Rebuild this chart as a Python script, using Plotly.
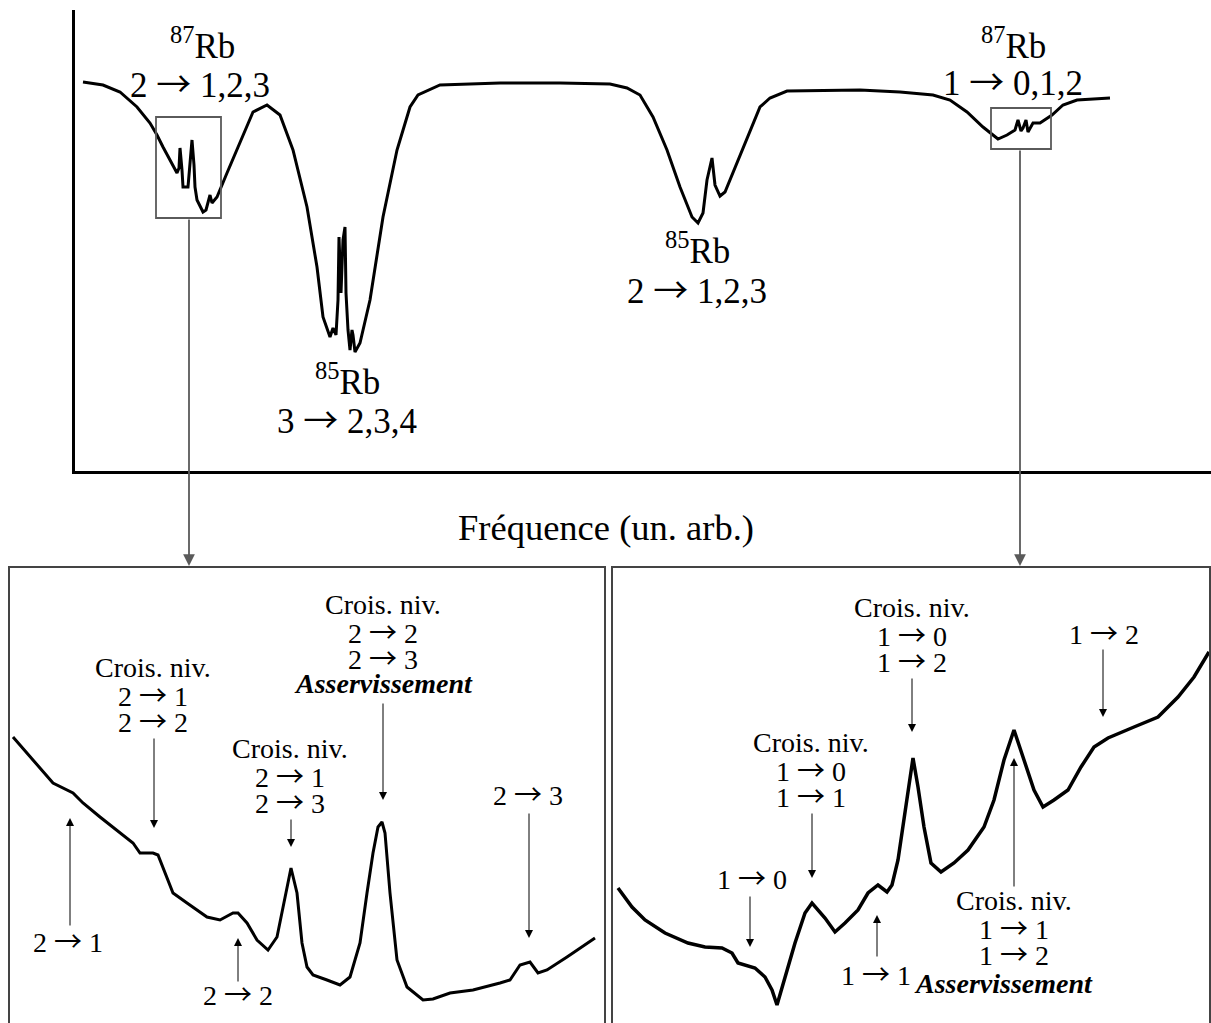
import plotly.graph_objects as go

W, H = 1211, 1023

# ---------------- data (arbitrary units) ----------------
# Top: absorption spectrum vs frequency
top_freq = [8, 28, 45, 62, 75, 82, 88, 95, 102, 104, 105, 107, 108, 113, 115, 117, 119, 120,
            122, 128, 131, 133, 135, 137, 142, 152, 165, 178, 192, 205, 218, 232, 242, 248,
            255, 258, 261, 263, 264, 266, 268, 270, 271, 273, 275, 277, 278, 280, 285, 295,
            308, 322, 335, 343, 365, 425, 485, 535, 552, 565, 578, 592, 605, 617, 623, 628,
            632, 637, 640, 645, 650, 662, 675, 685, 695, 712, 785, 825, 858, 875, 892, 908,
            918, 923, 932, 940, 943, 946, 948, 951, 953, 958, 965, 977, 988, 1002, 1035]
top_signal = [389, 386, 379, 364, 348, 336, 324, 311, 298, 303, 323, 301, 284, 284, 311, 331, 306, 284,
              271, 259, 261, 268, 276, 268, 274, 298, 328, 359, 366, 356, 321, 264, 204, 154,
              134, 143, 136, 171, 234, 178, 231, 244, 178, 141, 121, 141, 136, 119, 128, 171,
              254, 321, 364, 376, 386, 388, 388, 387, 383, 376, 354, 321, 284, 254, 248, 258,
              291, 313, 286, 275, 279, 308, 341, 364, 373, 380, 381, 379, 376, 371, 359, 344,
              336, 332, 336, 341, 351, 340, 343, 351, 339, 348, 348, 356, 366, 371, 373]

# Bottom left: 87Rb F=2 saturated absorption zoom
left_freq = [4, 24, 44, 64, 74, 91, 108, 124, 131, 144, 149, 156, 164, 178, 198, 211, 224, 229,
             238, 248, 259, 268, 274, 282, 288, 293, 298, 304, 318, 331, 341, 351, 358, 364,
             369, 373, 376, 381, 388, 398, 414, 424, 441, 464, 491, 501, 511, 521, 529, 538,
             558, 586]
left_signal = [286, 263, 240, 230, 220, 206, 193, 180, 170, 170, 168, 150, 130, 120, 106, 103, 110, 110,
               100, 83, 73, 86, 116, 155, 130, 80, 56, 48, 43, 38, 46, 80, 130, 170,
               196, 201, 190, 130, 63, 36, 23, 24, 30, 33, 40, 43, 58, 61, 50, 53,
               66, 85]

# Bottom right: 87Rb F=1 saturated absorption zoom
right_freq = [6, 20, 33, 53, 76, 93, 110, 120, 126, 143, 153, 160, 165, 173, 183, 193, 200, 213,
              223, 233, 246, 256, 266, 275, 280, 286, 293, 298, 301, 306, 312, 319, 329, 342,
              356, 372, 382, 392, 402, 412, 422, 431, 442, 456, 469, 482, 496, 522, 546, 566,
              582, 597]
right_signal = [135, 116, 103, 90, 80, 76, 75, 70, 60, 55, 46, 33, 18, 46, 80, 110, 120, 105,
                91, 100, 113, 130, 138, 131, 138, 163, 210, 246, 265, 236, 196, 160, 151, 160,
                173, 196, 223, 263, 293, 263, 233, 216, 223, 233, 256, 276, 285, 296, 306, 326,
                346, 371]

# Zoom boxes on the top spectrum (frequency span, signal span)
box_freq = [[81, 146], [916, 976]]
box_signal = [[253, 354], [322, 363]]

FONT = "Liberation Serif"
ARR = '<span style="font-family:Noto Sans CJK JP">→</span>'


def PX(x):
    return x / W


def PY(y):
    return 1 - y / H


fig = go.Figure()
fig.add_trace(go.Scatter(x=top_freq, y=top_signal, mode="lines",
                         line=dict(color="black", width=3), xaxis="x", yaxis="y",
                         hoverinfo="skip"))
fig.add_trace(go.Scatter(x=left_freq, y=left_signal, mode="lines",
                         line=dict(color="black", width=3), xaxis="x2", yaxis="y2",
                         hoverinfo="skip"))
fig.add_trace(go.Scatter(x=right_freq, y=right_signal, mode="lines",
                         line=dict(color="black", width=3.5), xaxis="x3", yaxis="y3",
                         hoverinfo="skip"))

hidden = dict(showgrid=False, zeroline=False, showticklabels=False, ticks="", visible=False)
fig.update_layout(
    width=W, height=H, margin=dict(l=0, r=0, t=0, b=0),
    paper_bgcolor="white", plot_bgcolor="rgba(0,0,0,0)", showlegend=False,
    xaxis=dict(domain=[PX(75), 1.0], range=[0, 1136], showline=True, linecolor="black",
               linewidth=2.5, showgrid=False, zeroline=False, showticklabels=False, ticks=""),
    yaxis=dict(domain=[PY(471), PY(10)], range=[0, 461], showline=True, linecolor="black",
               linewidth=2.5, showgrid=False, zeroline=False, showticklabels=False, ticks=""),
    xaxis2=dict(domain=[PX(9), PX(605)], range=[0, 596], anchor="y2", **hidden),
    yaxis2=dict(domain=[0, PY(567)], range=[0, 456], anchor="x2", **hidden),
    xaxis3=dict(domain=[PX(612), PX(1210)], range=[0, 598], anchor="y3", **hidden),
    yaxis3=dict(domain=[0, PY(567)], range=[0, 456], anchor="x3", **hidden),
)

shapes = []
for bf, bs in zip(box_freq, box_signal):
    shapes.append(dict(type="rect", xref="x", yref="y", x0=bf[0], x1=bf[1], y0=bs[0], y1=bs[1],
                       line=dict(color="#5a5a5a", width=1.8)))
for x0, x1 in [(9, 605), (612, 1210)]:
    shapes.append(dict(type="rect", xref="paper", yref="paper", x0=PX(x0), x1=PX(x1),
                       y0=-0.05, y1=PY(567), line=dict(color="#444444", width=2)))
fig.update_layout(shapes=shapes)

ann = []


def arrow(x, y_tail, y_tip, color="black", width=1, size=1.6):
    ann.append(dict(x=PX(x), y=PY(y_tip), xref="paper", yref="paper", ax=0,
                    ay=y_tail - y_tip, axref="pixel", ayref="pixel", text="",
                    showarrow=True, arrowhead=2, arrowsize=size, arrowwidth=width,
                    arrowcolor=color, standoff=0, startstandoff=0))


def text(s, x, y, size=28):
    ann.append(dict(x=PX(x), y=PY(y), xref="paper", yref="paper",
                    text=s.replace("→", ARR), showarrow=False,
                    xanchor="center", yanchor="middle",
                    font=dict(family=FONT, size=size, color="black")))


def block(lines, x, y0, dy=26.5, size=28):
    for i, s in enumerate(lines):
        text(s, x, y0 + i * dy, size)


# connectors from zoom boxes to panels
arrow(189, 218, 566, color="#5a5a5a", width=1.8, size=1.3)
arrow(1020, 149, 566, color="#5a5a5a", width=1.8, size=1.3)

# top labels
TS = 35
text("<sup>87</sup>Rb", 202, 44, TS)
text("2 → 1,2,3", 200, 81, TS)
text("<sup>85</sup>Rb", 348, 379, TS)
text("3 → 2,3,4", 347, 417, TS)
text("<sup>85</sup>Rb", 697, 248, TS)
text("2 → 1,2,3", 697, 287, TS)
text("<sup>87</sup>Rb", 1013, 44, TS)
text("1 → 0,1,2", 1013, 79, TS)
text("Fréquence (un. arb.)", 606, 527, 36.5)

ASV = "<b><i>Asservissement</i></b>"
# left panel
text("2 → 1", 68, 940)
arrow(70, 927, 818)
block(["Crois. niv.", "2 → 1", "2 → 2"], 153, 667)
arrow(154, 737, 828)
text("2 → 2", 238, 993)
arrow(238, 983, 938)
block(["Crois. niv.", "2 → 1", "2 → 3"], 290, 748)
arrow(291, 818, 847)
block(["Crois. niv.", "2 → 2", "2 → 3", ASV], 383, 604)
arrow(383, 702, 800)
text("2 → 3", 528, 793)
arrow(529, 812, 938)

# right panel
text("1 → 0", 752, 877)
arrow(750, 895, 947)
block(["Crois. niv.", "1 → 0", "1 → 1"], 811, 742)
arrow(812, 812, 878)
text("1 → 1", 876, 973)
arrow(877, 958, 915)
block(["Crois. niv.", "1 → 0", "1 → 2"], 912, 607)
arrow(912, 677, 732)
text("1 → 2", 1104, 632)
arrow(1103, 648, 717)
block(["Crois. niv.", "1 → 1", "1 → 2"], 1014, 900)
text(ASV, 1003, 983)
arrow(1014, 888, 758)

fig.update_layout(annotations=ann)
fig.write_html("out.html", config={"displayModeBar": False},
               post_script="document.body.style.margin='0';document.body.style.overflow='hidden';")
